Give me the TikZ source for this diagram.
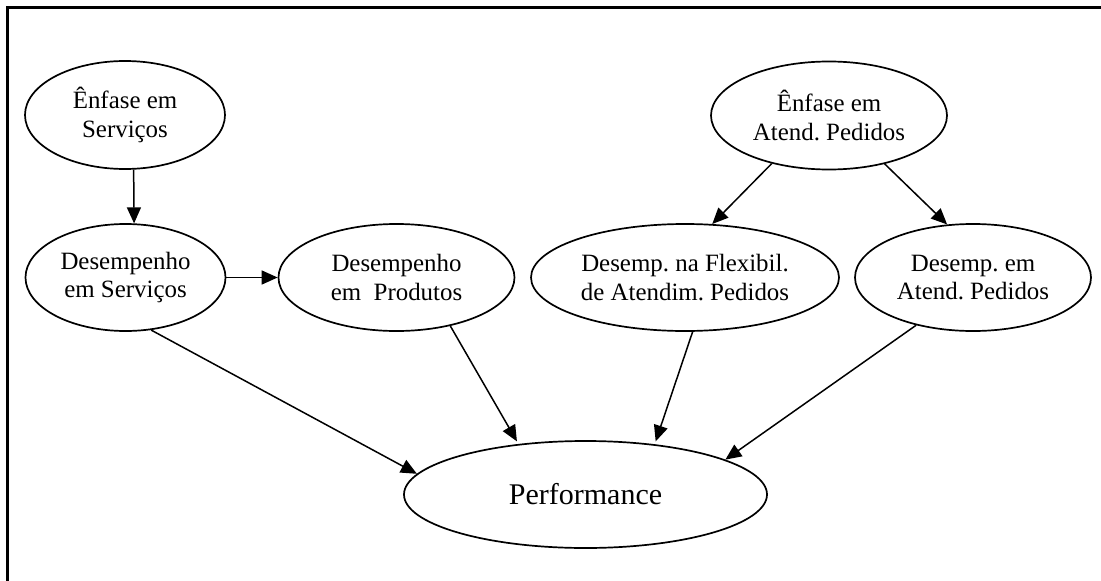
\documentclass[tikz,border=0pt]{standalone}
\usepackage{fontspec}
\setmainfont{Liberation Serif}
\frenchspacing
\usetikzlibrary{shapes.geometric,arrows.meta}
\begin{document}
\begin{tikzpicture}[x=1pt,y=-1pt,
  oval/.style={draw, ellipse, line width=1.7pt, inner sep=0pt, align=center,
    font=\fontsize{24.9}{28.5}\selectfont},
  conn/.style={line width=1.5pt, -{Triangle[length=16pt,width=14pt]}},
  frameline/.style={line width=2.6pt}]
\useasboundingbox (0,0) rectangle (1101,581);
\draw[frameline] (7.5,581) -- (7.5,7.5) -- (1101,7.5);

\node[oval, minimum width=200pt, minimum height=108pt] (es) at (125,115) {Ênfase em\\Serviços};
\node[oval, minimum width=236pt, minimum height=108pt] (ea) at (829,115.5) {Ênfase em\\Atend. Pedidos};
\node[oval, minimum width=200pt, minimum height=107pt] (ds) at (125.5,277.5) {Desempenho\\em Serviços};
\node[oval, minimum width=236pt, minimum height=107pt] (dp) at (396.5,277.5) {Desempenho\\em\ \ Produtos};
\node[oval, minimum width=308pt, minimum height=107pt] (df) at (685,277.5) {Desemp. na Flexibil.\\de Atendim. Pedidos};
\node[oval, minimum width=236pt, minimum height=107pt] (da) at (973,277.5) {Desemp. em\\Atend. Pedidos};
\node[oval, minimum width=363pt, minimum height=107pt, font=\fontsize{30}{34}\selectfont] (pf) at (585.5,494.5) {Performance};

\draw[conn] (es.279.5) -- (ds.81);
\draw[conn] (ds.east) -- (dp.west);
\draw[conn] (ea.220.3) -- (df.63.2);
\draw[conn] (ea.319.7) -- (da.116.8);
\draw[conn] (ds.296.8) -- (pf.173.2);
\draw[conn, shorten >=3pt] (dp.318.5) -- (pf.143.1);
\draw[conn, shorten >=3pt] (df.278.4) -- (pf.36.9);
\draw[conn] (da.220.9) -- (pf.14.45);
\end{tikzpicture}
\end{document}
